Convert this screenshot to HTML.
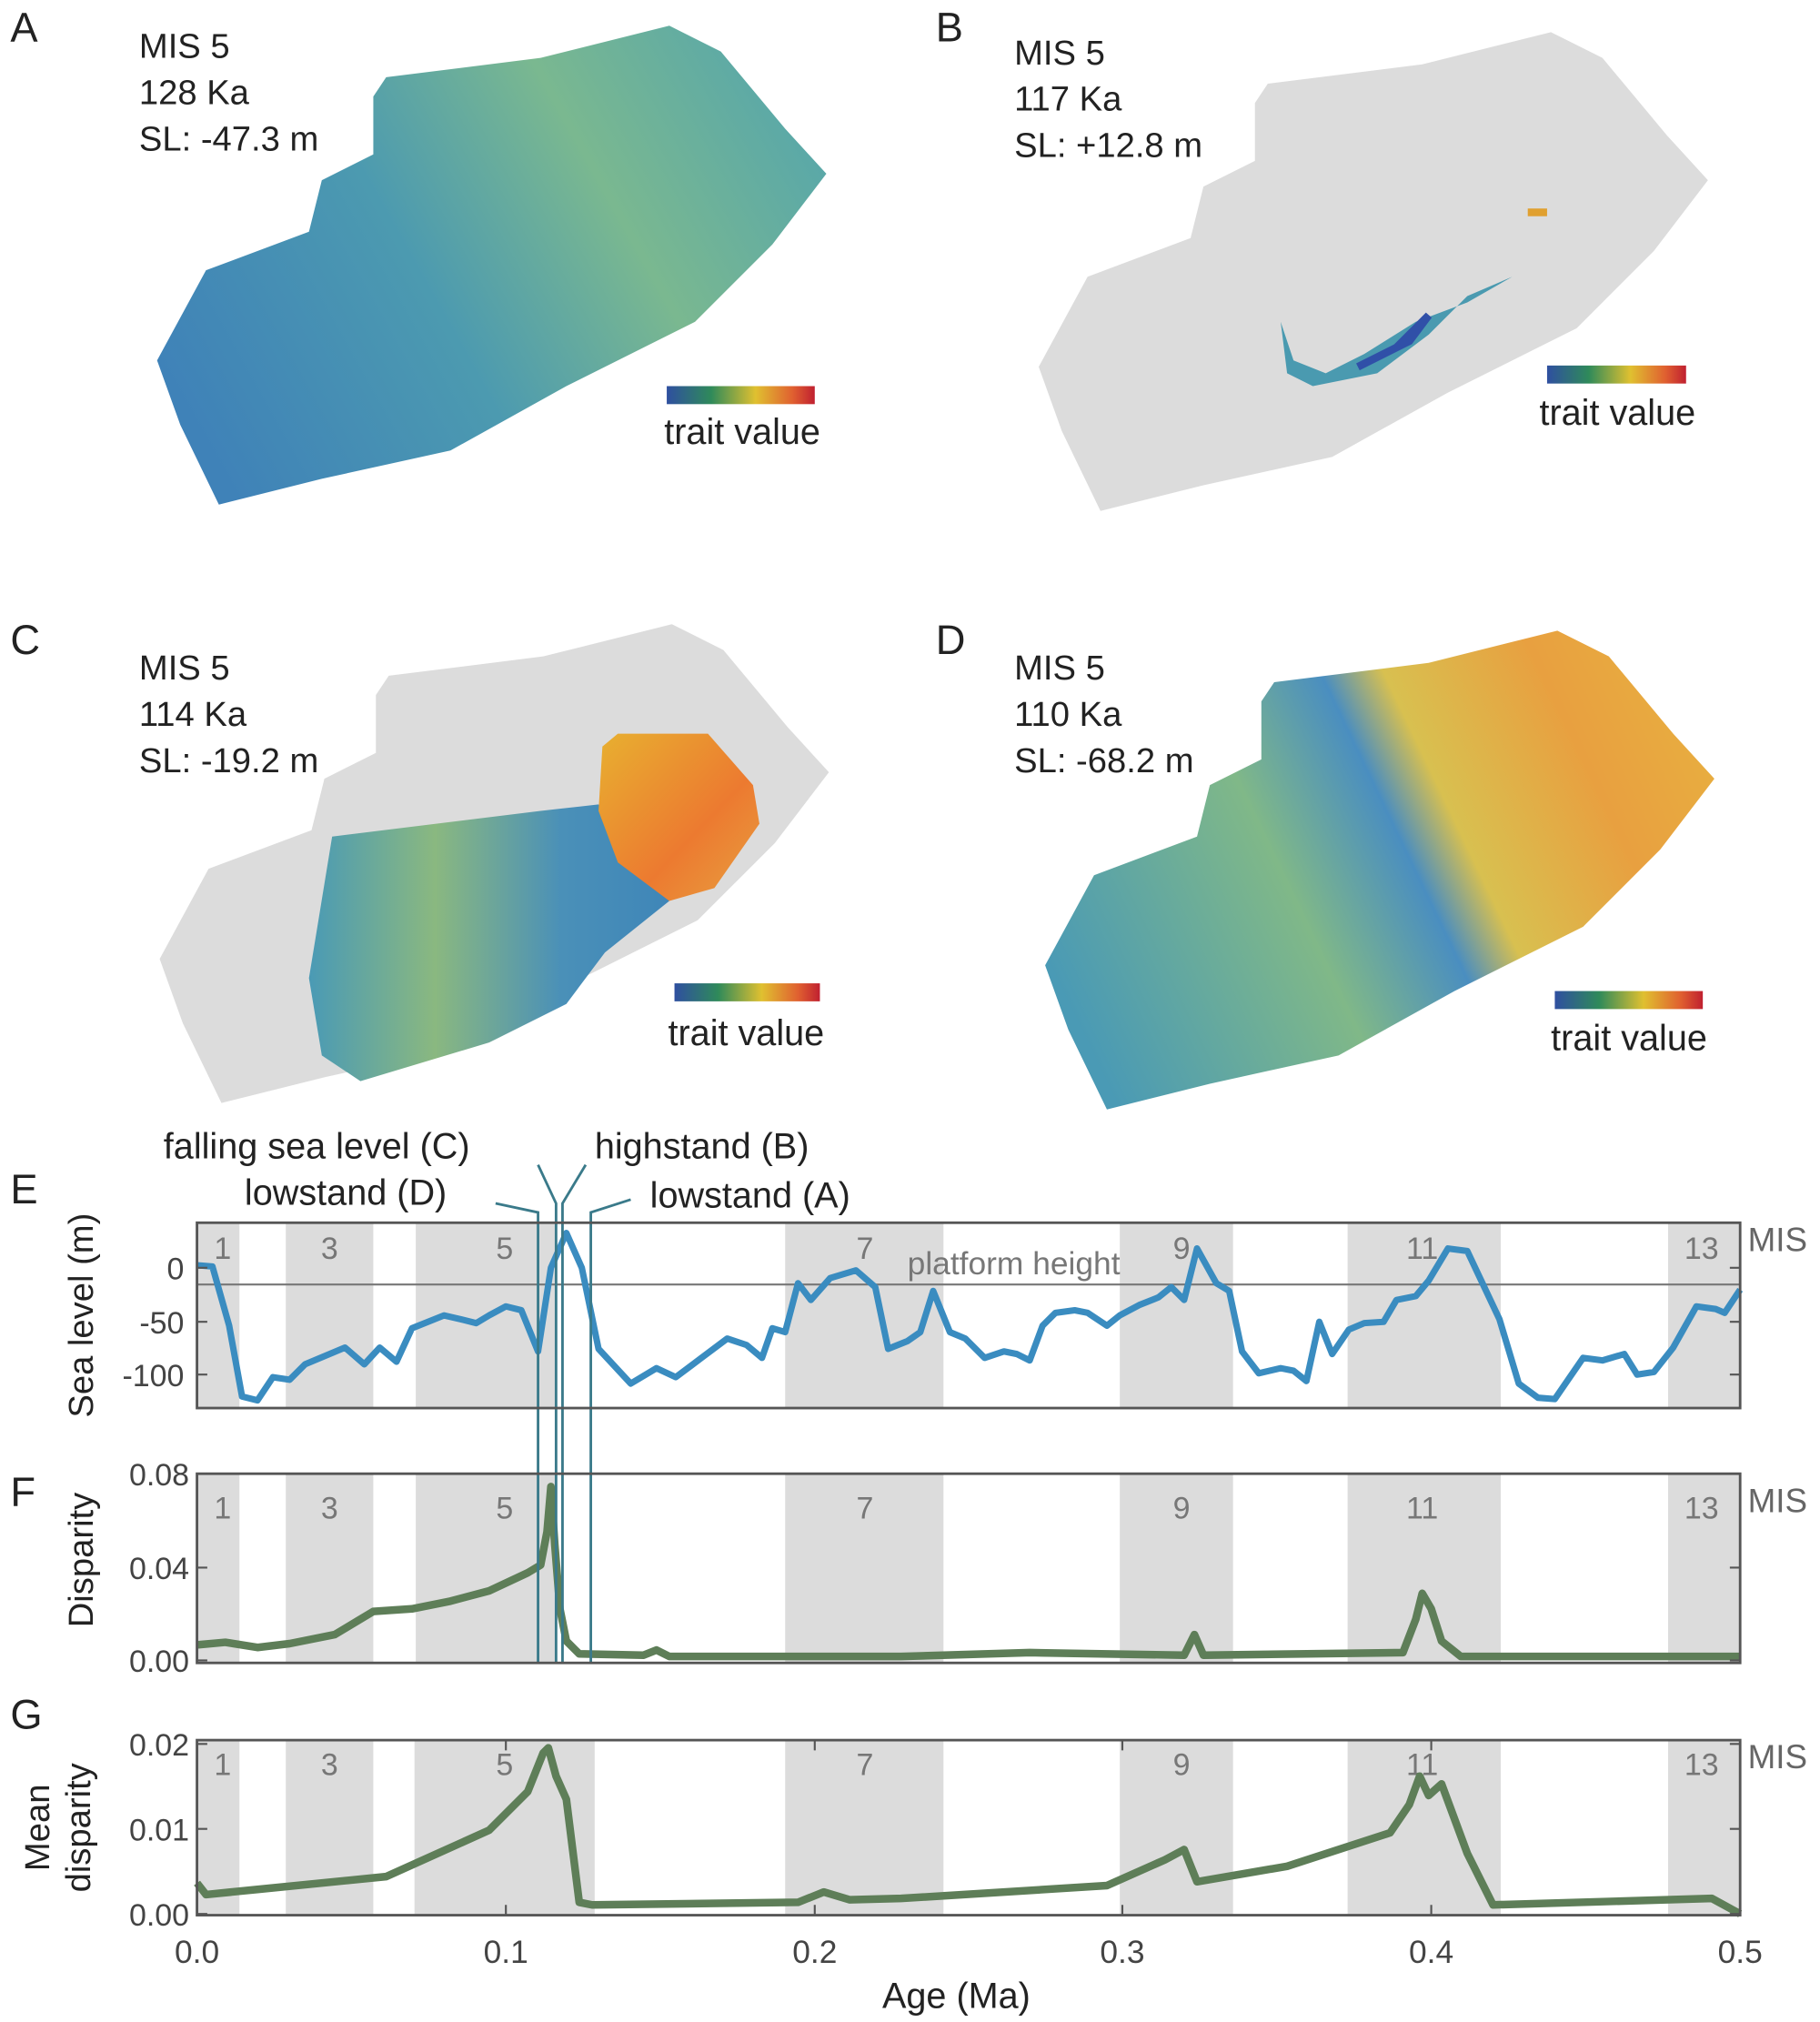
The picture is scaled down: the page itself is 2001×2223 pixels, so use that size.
<!DOCTYPE html>
<html><head><meta charset="utf-8"><style>
html,body{margin:0;padding:0;background:#fff}
svg{display:block}
text{font-family:"Liberation Sans",Arial,sans-serif}
</style></head><body>
<svg width="2001" height="2223" viewBox="0 0 1414 1571" xmlns="http://www.w3.org/2000/svg">
<defs>
<linearGradient id="cb" x1="0" x2="1"><stop offset="0" stop-color="#2f4fa0"/><stop offset="0.3" stop-color="#2f8a5a"/><stop offset="0.6" stop-color="#e0c030"/><stop offset="0.85" stop-color="#e06030"/><stop offset="1" stop-color="#c02030"/></linearGradient>
<linearGradient id="gA" x1="0" y1="0.7" x2="1" y2="0.3"><stop offset="0" stop-color="#3f82b8"/><stop offset="0.4" stop-color="#4c9ab0"/><stop offset="0.7" stop-color="#7ab890"/><stop offset="1" stop-color="#5aa8a8"/></linearGradient>
<linearGradient id="gD" gradientUnits="userSpaceOnUse" x1="130" y1="290" x2="630" y2="50"><stop offset="0" stop-color="#4a9ab5"/><stop offset="0.35" stop-color="#80b888"/><stop offset="0.52" stop-color="#4a8ec0"/><stop offset="0.6" stop-color="#d8c050"/><stop offset="0.8" stop-color="#e8a040"/><stop offset="1" stop-color="#e8b040"/></linearGradient>
<linearGradient id="gC" x1="0" y1="0" x2="1" y2="0"><stop offset="0" stop-color="#4a9ab5"/><stop offset="0.35" stop-color="#8ab880"/><stop offset="0.7" stop-color="#4a90b8"/><stop offset="1" stop-color="#3f86b8"/></linearGradient>
<linearGradient id="gO" x1="0" y1="0" x2="1" y2="1"><stop offset="0" stop-color="#e8b030"/><stop offset="0.6" stop-color="#ec7a30"/><stop offset="1" stop-color="#e8a040"/></linearGradient>
<polygon id="blob" points="290,75 300,60 420,45 520,20 560,40 610,100 642,135 600,190 540,250 440,300 350,350 250,372 170,392 140,330 122,280 160,210 240,180 250,140 290,120"/>
<g id="bands"><rect x="153" y="0" width="33" height="1"/><rect x="222" y="0" width="68" height="1"/><rect x="323" y="0" width="109" height="1"/><rect x="610" y="0" width="123" height="1"/><rect x="870" y="0" width="88" height="1"/><rect x="1047" y="0" width="119" height="1"/><rect x="1296" y="0" width="56" height="1"/></g>
<g id="mis"><text x="173">1</text><text x="256">3</text><text x="392">5</text><text x="672">7</text><text x="918">9</text><text x="1105">11</text><text x="1322">13</text></g>
</defs>
<g font-size="32" fill="#222"><text x="8" y="32">A</text><text x="727" y="32">B</text><text x="8" y="508">C</text><text x="727" y="508">D</text><text x="8" y="935">E</text><text x="8" y="1170">F</text><text x="8" y="1343">G</text></g>
<g font-size="27" fill="#222">
<text x="108" y="45">MIS 5</text><text x="108" y="81">128 Ka</text><text x="108" y="117">SL: -47.3 m</text>
<text x="788" y="50">MIS 5</text><text x="788" y="86">117 Ka</text><text x="788" y="122">SL: +12.8 m</text>
<text x="108" y="528">MIS 5</text><text x="108" y="564">114 Ka</text><text x="108" y="600">SL: -19.2 m</text>
<text x="788" y="528">MIS 5</text><text x="788" y="564">110 Ka</text><text x="788" y="600">SL: -68.2 m</text>
</g>
<use href="#blob" fill="url(#gA)"/>
<use href="#blob" fill="#dcdcdc" transform="translate(685,5)"/>
<path d="M995,250 L1000,290 L1020,300 L1070,290 L1110,260 L1140,230 L1175,215 L1140,235 L1100,250 L1060,275 L1030,290 L1005,280 Z" fill="#4a9ab0"/>
<path d="M1055,285 L1085,270 L1110,245 L1095,265 Z" fill="#3050a8" stroke="#3050a8" stroke-width="6"/>
<rect x="1187" y="162" width="15" height="6" fill="#e0a030"/>
<use href="#blob" fill="#dcdcdc" transform="translate(2,465)"/>
<path d="M258,650 L420,630 L465,625 L520,700 L470,740 L440,780 L380,810 L280,840 L250,820 L240,760 Z" fill="url(#gC)"/>
<path d="M468,580 L480,570 L550,570 L585,610 L590,640 L555,690 L520,700 L480,670 L465,630 Z" fill="url(#gO)"/>
<use href="#blob" fill="url(#gD)" transform="translate(690,470)"/>
<rect x="518" y="300" width="115" height="14" fill="url(#cb)"/><text x="516" y="345" font-size="28" fill="#222">trait value</text>
<rect x="1202" y="284" width="108" height="14" fill="url(#cb)"/><text x="1196" y="330" font-size="28" fill="#222">trait value</text>
<rect x="524" y="764" width="113" height="14" fill="url(#cb)"/><text x="519" y="812" font-size="28" fill="#222">trait value</text>
<rect x="1208" y="770" width="115" height="14" fill="url(#cb)"/><text x="1205" y="816" font-size="28" fill="#222">trait value</text>
<g fill="#dcdcdc">
<use href="#bands" transform="translate(0,950) scale(1,144)"/>
<use href="#bands" transform="translate(0,1145) scale(1,147)"/>
<rect x="153" y="1352" width="33" height="136"/><rect x="222" y="1352" width="68" height="136"/><rect x="322" y="1352" width="140" height="136"/><rect x="610" y="1352" width="123" height="136"/><rect x="870" y="1352" width="88" height="136"/><rect x="1047" y="1352" width="119" height="136"/><rect x="1296" y="1352" width="56" height="136"/>
</g>
<g font-size="24" fill="#777" text-anchor="middle">
<use href="#mis" transform="translate(0,978)"/><use href="#mis" transform="translate(0,1180)"/><use href="#mis" transform="translate(0,1379)"/>
</g>
<g font-size="26" fill="#666"><text x="1358" y="972">MIS</text><text x="1358" y="1175">MIS</text><text x="1358" y="1374">MIS</text></g>
<line x1="153" y1="998" x2="1352" y2="998" stroke="#777" stroke-width="1.5"/>
<text x="705" y="990" font-size="25" fill="#777">platform height</text>
<polyline fill="none" stroke="#3a8cc0" stroke-width="5" stroke-linejoin="round" points="153,983 165,984 178,1030 188,1085 200,1088 212,1070 225,1072 237,1060 268,1047 283,1060 295,1047 308,1058 320,1032 345,1022 358,1025 370,1028 380,1022 393,1015 405,1018 418,1050 428,985 440,958 452,985 465,1048 490,1075 510,1063 525,1070 545,1055 565,1040 580,1045 592,1055 600,1032 610,1035 620,997 630,1010 645,993 665,987 680,1000 690,1048 705,1042 715,1035 725,1003 738,1035 750,1040 765,1055 780,1050 790,1052 800,1057 810,1030 820,1020 835,1018 845,1020 860,1030 870,1022 885,1014 900,1008 910,1000 920,1010 930,970 945,997 955,1003 965,1050 978,1067 995,1063 1005,1065 1015,1073 1025,1027 1035,1052 1048,1033 1060,1028 1075,1027 1085,1010 1100,1007 1110,995 1125,970 1140,972 1165,1025 1180,1075 1195,1086 1208,1087 1230,1055 1245,1057 1262,1052 1272,1068 1285,1066 1300,1047 1318,1015 1333,1017 1340,1020 1352,1002"/>
<polyline fill="none" stroke="#5e7e58" stroke-width="6" stroke-linejoin="round" points="153,1278 175,1276 200,1280 225,1277 260,1270 290,1252 320,1250 350,1244 380,1236 410,1222 420,1216 425,1190 428,1155 431,1200 435,1250 440,1275 450,1285 500,1286 510,1282 520,1287 700,1287 800,1284 920,1286 928,1270 935,1286 1090,1284 1100,1258 1105,1238 1112,1250 1120,1275 1135,1287 1352,1287"/>
<polyline fill="none" stroke="#5e7e58" stroke-width="6" stroke-linejoin="round" points="153,1463 160,1472 200,1468 300,1458 380,1422 410,1392 422,1362 426,1358 432,1380 440,1398 450,1478 460,1480 620,1478 640,1470 660,1476 700,1475 860,1465 905,1445 920,1437 930,1462 1000,1450 1080,1424 1095,1402 1103,1380 1110,1395 1120,1386 1140,1440 1160,1480 1330,1475 1352,1487"/>
<g stroke="#3a7a8a" stroke-width="2" fill="none">
<polyline points="385,935 418,942 418,1292"/>
<polyline points="418,905 432,935 432,1292"/>
<polyline points="455,905 437,935 437,1292"/>
<polyline points="490,932 459,942 459,1292"/>
</g>
<g font-size="28" fill="#222">
<text x="127" y="900">falling sea level (C)</text><text x="462" y="900">highstand (B)</text>
<text x="190" y="936">lowstand (D)</text><text x="505" y="938">lowstand (A)</text>
</g>
<g fill="none" stroke="#555" stroke-width="2">
<rect x="153" y="950" width="1199" height="144"/>
<rect x="153" y="1145" width="1199" height="147"/>
<rect x="153" y="1352" width="1199" height="136"/>
</g>
<g stroke="#555" stroke-width="1.5">
<path d="M153,985h8M153,1027h8M153,1068h8M1352,985h-8M1352,1027h-8M1352,1068h-8"/>
<path d="M153,1145h8M153,1218h8M153,1290h8M1352,1145h-8M1352,1218h-8M1352,1290h-8"/>
<path d="M153,1355h8M153,1421h8M153,1487h8M1352,1355h-8M1352,1421h-8M1352,1487h-8"/>
<path d="M393,1488v-8M633,1488v-8M872,1488v-8M1112,1488v-8M393,1352v8M633,1352v8M872,1352v8M1112,1352v8"/>
</g>
<g font-size="24" fill="#444" text-anchor="end">
<text x="143" y="994">0</text><text x="143" y="1036">-50</text><text x="143" y="1077">-100</text>
<text x="147" y="1154">0.08</text><text x="147" y="1227">0.04</text><text x="147" y="1299">0.00</text>
<text x="147" y="1364">0.02</text><text x="147" y="1430">0.01</text><text x="147" y="1496">0.00</text>
</g>
<g font-size="25" fill="#444" text-anchor="middle">
<text x="153" y="1525">0.0</text><text x="393" y="1525">0.1</text><text x="633" y="1525">0.2</text><text x="872" y="1525">0.3</text><text x="1112" y="1525">0.4</text><text x="1352" y="1525">0.5</text>
</g>
<text x="743" y="1560" font-size="28" fill="#222" text-anchor="middle">Age (Ma)</text>
<g font-size="27" fill="#222" text-anchor="middle">
<text transform="translate(72,1022) rotate(-90)">Sea level (m)</text>
<text transform="translate(72,1212) rotate(-90)">Disparity</text>
<text transform="translate(38,1420) rotate(-90)">Mean</text>
<text transform="translate(70,1420) rotate(-90)">disparity</text>
</g>
</svg>
</body></html>
